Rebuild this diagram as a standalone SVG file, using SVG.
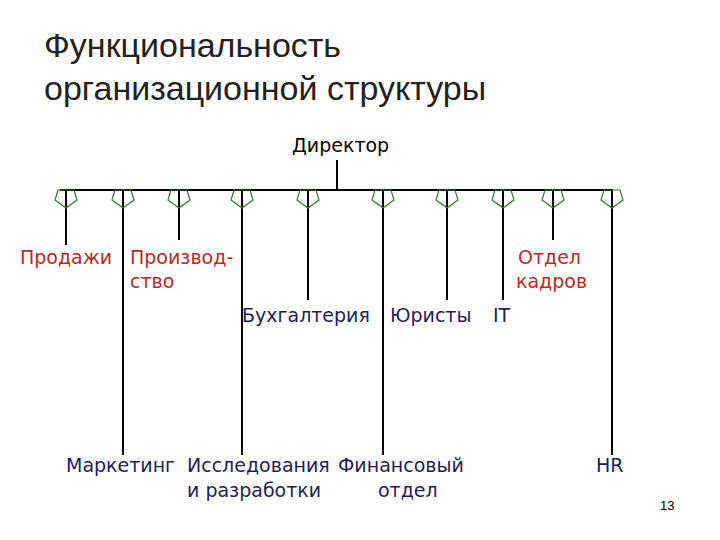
<svg xmlns="http://www.w3.org/2000/svg" width="720" height="540" viewBox="0 0 720 540">
<style>
.t{font-family:"DejaVu Sans",sans-serif;font-size:19px}
.r{fill:#c0281e}.b{fill:#1e1e5a}
.l{stroke:#000;stroke-width:2;fill:none}
.p{stroke:#2a7a2a;stroke-width:1.2;fill:none}
</style>
<defs><polygon id="pg" class="p" points="-8,0 8,0 11,10 0,18 -11,10"/></defs>
<rect width="720" height="540" fill="#fff"/>
<text x="44" y="57" font-family="Liberation Sans,sans-serif" font-size="34" fill="#222">Функциональность</text>
<text x="44" y="100" font-family="Liberation Sans,sans-serif" font-size="34" fill="#222">организационной структуры</text>
<g id="director"><text class="t" x="292" y="152" fill="#000">Директор</text></g>
<g id="connectors">
<path class="l" d="M337 160V190M60 190H613"/>
<path class="l" d="M66 190V245M123 190V455M179 190V240M242 190V455M308 190V300M383 190V455M447 190V300M503 190V300M553 190V240M612 190V455"/>
<use href="#pg" x="66" y="190"/><use href="#pg" x="123" y="190"/><use href="#pg" x="179" y="190"/><use href="#pg" x="242" y="190"/><use href="#pg" x="308" y="190"/><use href="#pg" x="383" y="190"/><use href="#pg" x="447" y="190"/><use href="#pg" x="503" y="190"/><use href="#pg" x="553" y="190"/><use href="#pg" x="612" y="190"/>
</g>
<g id="n1"><text class="t r" x="20" y="264">Продажи</text></g>
<g id="n2"><text class="t r" x="130" y="264">Производ-</text><text class="t r" x="130" y="288">ство</text></g>
<g id="n3"><text class="t b" x="242" y="322">Бухгалтерия</text></g>
<g id="n4"><text class="t b" x="390" y="322">Юристы</text></g>
<g id="n5"><text class="t b" x="493" y="322">IT</text></g>
<g id="n6"><text class="t r" x="518" y="264">Отдел</text><text class="t r" x="516" y="288">кадров</text></g>
<g id="n7"><text class="t b" x="66" y="472">Маркетинг</text></g>
<g id="n8"><text class="t b" x="187" y="472">Исследования</text><text class="t b" x="187" y="497">и разработки</text></g>
<g id="n9"><text class="t b" x="338" y="472">Финансовый</text><text class="t b" x="378" y="497">отдел</text></g>
<g id="n10"><text class="t b" x="596" y="472">HR</text></g>
<text x="660" y="510" font-family="Liberation Sans,sans-serif" font-size="13" fill="#000">13</text>
</svg>
